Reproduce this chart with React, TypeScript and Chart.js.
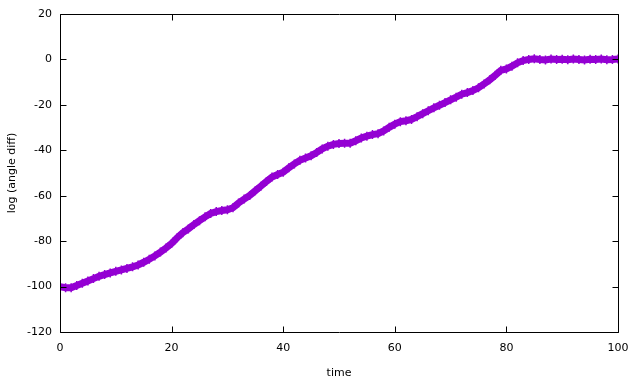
import React, { useEffect, useRef } from "react";
import { Chart, registerables } from "chart.js";

Chart.register(...registerables);

// sample times (0..100, step 1)
const times: number[] = Array.from({ length: 101 }, (_, i) => i);

// log (angle diff) at each time
const logAngleDiff: number[] = [
  -100, -100.5, -100.5, -99.5, -98.5, -97.5, -96.5, -95.5, -94.7, -94,
  -93.3, -92.7, -92, -91.3, -90.5, -89.3, -88, -86.5, -84.8, -83,
  -81, -78.5, -76.3, -74.6, -72.7, -71, -69.3, -67.8, -67, -66.5,
  -66.2, -65.3, -63.2, -61.5, -59.9, -57.8, -55.8, -53.7, -51.8, -50.7,
  -49.7, -47.7, -46, -44.4, -43.4, -42.4, -41, -39.4, -38.2, -37.4,
  -37, -36.9, -36.9, -35.8, -34.6, -33.8, -33.1, -32.7, -31.5, -29.9,
  -28.5, -27.4, -27, -26.4, -25.2, -23.9, -22.6, -21.3, -20.2, -19,
  -17.8, -16.6, -15.3, -14.6, -13.7, -12.5, -10.8, -9, -7, -4.8,
  -4.2, -3, -1.5, -0.5, 0, 0.3, 0, -0.2, 0.2, 0,
  0.1, -0.1, 0.2, 0, -0.2, 0.1, 0, 0.2, -0.1, 0,
  0.2,
];

const xTicks: number[] = [0, 20, 40, 60, 80, 100];
const yTicks: number[] = [-120, -100, -80, -60, -40, -20, 0, 20];

const COLOR = "#9400D3";
const FONT = "'DejaVu Sans', sans-serif";

const framePlugin = {
  id: "gnuFrame",
  afterDatasetsDraw(chart: any) {
    const { ctx, chartArea: a, scales } = chart;
    const x = scales.x;
    const y = scales.y;
    const L = Math.round(a.left) + 0.5;
    const R = Math.round(a.right) + 0.5;
    const T = Math.round(a.top) + 0.5;
    const B = Math.round(a.bottom) + 0.5;
    const len = 6;
    ctx.save();
    ctx.strokeStyle = "#000";
    ctx.lineWidth = 1;
    ctx.beginPath();
    ctx.rect(L, T, R - L, B - T);
    for (const v of xTicks) {
      const px = Math.round(x.getPixelForValue(v)) + 0.5;
      ctx.moveTo(px, B);
      ctx.lineTo(px, B - len);
      ctx.moveTo(px, T);
      ctx.lineTo(px, T + len);
    }
    for (const v of yTicks) {
      const py = Math.round(y.getPixelForValue(v)) + 0.5;
      ctx.moveTo(L, py);
      ctx.lineTo(L + len, py);
      ctx.moveTo(R, py);
      ctx.lineTo(R - len, py);
    }
    ctx.stroke();
    ctx.restore();
  },
};

export default function App() {
  const ref = useRef<HTMLCanvasElement | null>(null);

  useEffect(() => {
    document.body.style.margin = "0";
    const canvas = ref.current;
    if (!canvas) return;
    const data = times.map((t, i) => ({ x: t, y: logAngleDiff[i] }));
    const chart = new Chart(canvas, {
      type: "line",
      data: {
        datasets: [
          {
            data,
            borderColor: COLOR,
            backgroundColor: COLOR,
            borderWidth: 7,
            pointStyle: "cross",
            pointRadius: 4.5,
            pointBorderWidth: 1.5,
            pointBorderColor: COLOR,
            tension: 0,
            fill: false,
          },
        ],
      },
      options: {
        responsive: false,
        animation: false,
        devicePixelRatio: 1,
        layout: { padding: { top: 14, right: 17, left: 0, bottom: 0 } },
        plugins: {
          legend: { display: false },
          tooltip: { enabled: false },
        },
        scales: {
          x: {
            type: "linear",
            min: 0,
            max: 100,
            afterBuildTicks: (s: any) => {
              s.ticks = xTicks.map((v) => ({ value: v }));
            },
            afterFit: (s: any) => {
              s.height = 49;
              s.paddingLeft = 0;
              s.paddingRight = 0;
            },
            grid: { display: false, drawTicks: false },
            border: { display: false },
            ticks: {
              color: "#000",
              font: { family: FONT, size: 11 },
              padding: 10,
              maxRotation: 0,
            },
            title: {
              display: true,
              text: "time",
              color: "#000",
              font: { family: FONT, size: 11 },
              padding: { top: 0, bottom: 1 },
            },
          },
          y: {
            type: "linear",
            min: -120,
            max: 20,
            afterBuildTicks: (s: any) => {
              s.ticks = yTicks.map((v) => ({ value: v }));
            },
            afterFit: (s: any) => {
              s.width = 60;
              s.paddingTop = 0;
              s.paddingBottom = 0;
            },
            grid: { display: false, drawTicks: false },
            border: { display: false },
            ticks: {
              color: "#000",
              font: { family: FONT, size: 11 },
              padding: 8,
            },
            title: {
              display: true,
              text: "log (angle diff)",
              color: "#000",
              font: { family: FONT, size: 11 },
              padding: { top: 6, bottom: 0 },
            },
          },
        },
      },
      plugins: [framePlugin],
    });
    return () => chart.destroy();
  }, []);

  return (
    <div style={{ width: 635, height: 381, background: "#fff" }}>
      <canvas ref={ref} width={635} height={381} style={{ display: "block" }} />
    </div>
  );
}
